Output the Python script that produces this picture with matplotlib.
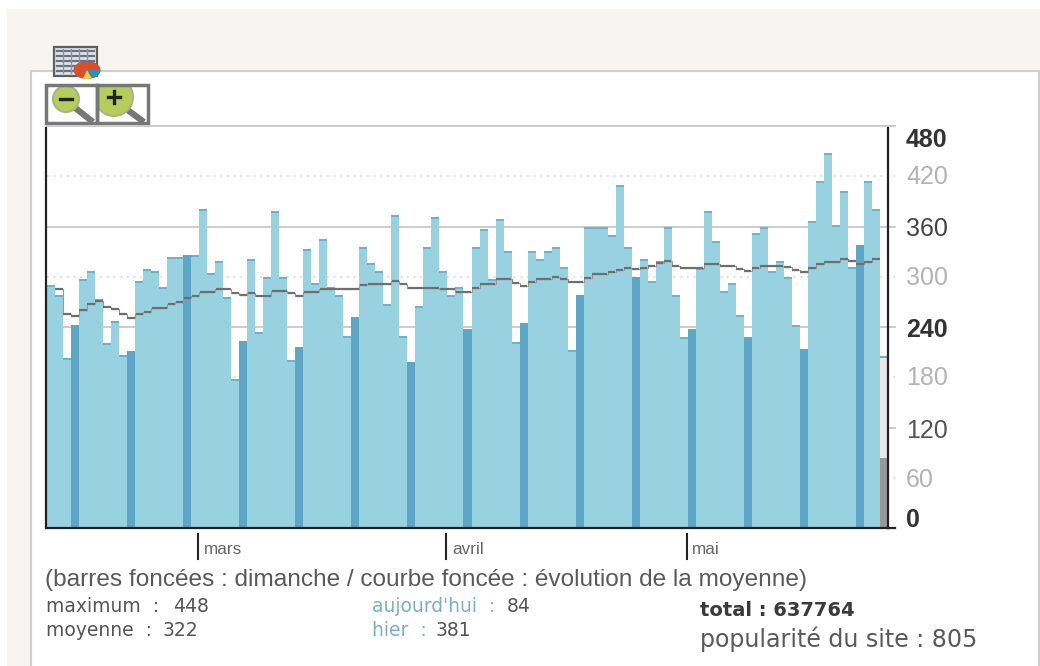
import matplotlib
matplotlib.use("Agg")
import matplotlib.pyplot as plt
import numpy as np
from matplotlib.patches import Rectangle, Circle, Ellipse, Wedge

# visits per day, oldest first
visits = [
    290.1, 277.9, 203.3, 242.0, 297.0, 306.9, 273.4, 220.5, 246.8, 206.2, 211.0, 294.9, 309.3, 306.9, 287.4,
    323.6, 323.6, 326.0, 326.0, 380.9, 304.1, 318.8, 275.5, 178.3, 222.9, 321.2, 234.4, 299.3, 378.5, 299.3,
    201.0, 215.8, 333.1, 292.2, 345.1, 287.4, 277.9, 229.6, 251.9, 335.5, 316.4, 306.9, 267.8, 373.7, 229.6,
    198.6, 265.4, 335.5, 371.3, 306.9, 277.9, 287.4, 237.3, 335.5, 357.0, 297.0, 369.0, 330.7, 222.4, 244.8,
    330.7, 320.8, 330.7, 335.5, 311.3, 212.9, 278.2, 359.4, 359.4, 359.4, 349.9, 409.6, 335.5, 299.7, 320.8,
    294.9, 318.8, 359.4, 277.9, 227.7, 237.3, 310.8, 378.5, 342.7, 282.6, 292.2, 254.0, 227.7, 352.2, 359.4,
    306.5, 318.4, 299.3, 242.0, 213.4, 366.6, 414.0, 448.0, 361.8, 402.4, 311.3, 337.9, 414.3, 381.0,
]
today = 84
today_forecast = 205

moving_avg = [
    285.0, 255.5, 253.1, 260.3, 267.5, 271.0, 263.5, 261.1, 255.9, 251.1, 255.5, 257.9, 263.0, 263.0,
    267.8, 270.2, 275.0, 277.4, 282.2, 282.2, 285.0, 285.0, 280.2, 277.9, 280.2, 277.4, 277.4, 282.6, 282.6,
    280.2, 277.4, 282.2, 282.2, 285.0, 285.0, 285.0, 285.0, 285.0, 289.8, 291.7, 291.7, 291.7, 294.6, 291.7,
    286.9, 286.9, 286.9, 286.9, 285.0, 285.0, 282.2, 282.2, 286.9, 291.7, 291.7, 297.0, 297.0, 292.2, 289.3,
    294.1, 297.0, 297.0, 299.3, 297.0, 294.1, 294.1, 298.9, 303.6, 303.6, 306.0, 308.4, 310.8, 308.9, 310.8,
    313.4, 316.0, 318.4, 313.4, 310.8, 310.8, 310.8, 315.6, 315.6, 313.2, 313.2, 308.9, 306.5, 310.8, 313.4,
    313.4, 313.4, 311.3, 308.4, 306.0, 310.8, 315.6, 318.0, 318.0, 320.8, 318.4, 315.6, 318.0, 320.8,
]

y_ticks = [480, 420, 360, 300, 240, 180, 120, 60, 0]
y_label_shift = [-14, -1, -3, -1, -3, -1, -3, -2, 8]
y_label_color = ["#333333", "#b4b4b4", "#444444", "#b4b4b4", "#333333", "#b4b4b4", "#555555", "#b4b4b4", "#333333"]
y_label_weight = ["bold", "normal", "normal", "normal", "bold", "normal", "normal", "normal", "bold"]

month_labels = ["mars", "avril", "mai"]
month_starts = [18.875, 49.875, 79.875]
first_sunday = 3

W, H = 1040, 666
plt.rcParams["font.family"] = ["Liberation Sans", "DejaVu Sans"]

fig = plt.figure(figsize=(W / 100, H / 100), dpi=100, facecolor="white")

# page background and decorations, in pixels
pg = fig.add_axes([0, 0, 1, 1], zorder=0)
pg.set_xlim(0, W)
pg.set_ylim(H, 0)
pg.axis("off")
pg.add_patch(Rectangle((7, 9), W, H, fc="#f6f5f1", ec="none"))
pg.add_patch(Rectangle((31, 71), 1008, H, fc="white", ec="#cfcfcf", lw=1.5))

# table + pie icon
pg.add_patch(Rectangle((54, 47), 43, 29, fc="#dfe3ea", ec="#5f5f5f", lw=1.6, zorder=2))
for yy in range(51, 75, 5):
    pg.plot([57, 94], [yy, yy], color="#68747f", lw=1.6, zorder=2.1)
for xx in range(63, 94, 8):
    pg.plot([xx, xx], [49, 73], color="#8c96a3", lw=1, zorder=2.1)
pie = Ellipse((87, 70), 27, 18, fc="#d5502c", ec="none", zorder=3)
pg.add_patch(pie)
blue = Wedge((87, 70), 14, 0, 60, fc="#2f8fb0", ec="none", zorder=3.1)
yellow = Wedge((87, 70), 14, 60, 115, fc="#e3d24a", ec="none", zorder=3.1)
for piece in [blue, yellow]:
    pg.add_patch(piece)
    piece.set_clip_path(pie)

# zoom buttons
for x0, x1, cx, cy, r, sign in [(46, 97, 66, 99, 13, "-"), (97, 148, 114, 97, 19, "+")]:
    pg.add_patch(Rectangle((x0, 85), x1 - x0, 38, fc="white", ec="none", zorder=4))
    pg.plot([cx + r * 0.6, x1 - 4], [cy + r * 0.6, 122], color="#777777", lw=4.5, solid_capstyle="butt", zorder=4.1)
    frame = Rectangle((x0, 85), x1 - x0, 38, fc="none", ec="#777777", lw=2.5, zorder=4.4)
    pg.add_patch(frame)
    lens = Circle((cx, cy), r, fc="#b7cc5a", ec="#a8b58c", lw=1.5, zorder=4.2)
    pg.add_patch(lens)
    lens.set_clip_path(frame)
    pg.plot([cx - 6, cx + 6], [cy, cy], color="#222222", lw=2.4, zorder=4.3)
    if sign == "+":
        pg.plot([cx, cx], [cy - 6, cy + 6], color="#222222", lw=2.4, zorder=4.3)

# chart
ax = fig.add_axes([47 / W, 1 - 528 / H, 841 / W, 402 / H], zorder=1, facecolor="none")
days = np.arange(len(visits))
bar_colors = ["#5ea6c6" if (d - first_sunday) % 7 == 0 else "#98d2e0" for d in days]
values = np.array(visits)
ax.bar(days + 0.5, values, width=1, color=bar_colors, zorder=3)
cap = 2.4
light = np.array([c == "#98d2e0" for c in bar_colors])
ax.bar(days[light] + 0.5, cap, bottom=values[light] - cap, width=1, color="#6bb3cf", zorder=4)

# current day: done so far + projected
last = len(visits) + 0.5
ax.bar(last, today_forecast, width=1, color="#e9e9e9", zorder=3)
ax.bar(last, today, width=1, color="#999999", zorder=4)
ax.bar(last, cap, bottom=today_forecast - cap, width=1, color="#6bb3cf", zorder=4)

# average: flat dashes joined by a faint step
ax.step(days[1:] + 0.5, moving_avg, where="mid", color="#999999", lw=0.8, zorder=5)
for i, v in enumerate(moving_avg):
    left = i == 0 or moving_avg[i - 1] != v
    right = i == len(moving_avg) - 1 or moving_avg[i + 1] != v
    ax.hlines(v, i + 1 + (0.05 if left else 0), i + 2 - (0.05 if right else 0), color="#6f6f6f", lw=1.6, zorder=6)

ax.set_xlim(0, 105)
ax.set_ylim(0, 480)
ax.set_xticks([])
ax.set_yticks([])
ax.spines["top"].set_visible(False)
for side in ["left", "right", "bottom"]:
    ax.spines[side].set_linewidth(1.6)
    ax.spines[side].set_color("#222222")
    ax.spines[side].set_zorder(7)
ax.spines["left"].set_position(("outward", 0.7))
ax.spines["left"].set_bounds(0, 478)
ax.spines["right"].set_bounds(0, 478)

# horizontal rules poke out a little on the right
for i, v in enumerate(y_ticks):
    if v == 0:
        ax.plot([1, 1.008], [v, v], transform=ax.get_yaxis_transform(), clip_on=False, color="#222222", lw=1.6, zorder=6)
    elif i % 2 == 0:
        ax.plot([0, 1.008], [v, v], transform=ax.get_yaxis_transform(), clip_on=False, color="#cccccc", lw=1.4, zorder=1)
    else:
        ax.plot([0, 1.008], [v, v], transform=ax.get_yaxis_transform(), clip_on=False, color="#d6d6d6", lw=1.2, ls=(0, (1, 3)), zorder=1)
    ax.annotate(str(v), (1, v), xycoords=ax.get_yaxis_transform(), xytext=(13, y_label_shift[i] * 0.72),
                textcoords="offset points", fontsize=18, color=y_label_color[i], fontweight=y_label_weight[i],
                va="center", ha="left", annotation_clip=False)

for name, m in zip(month_labels, month_starts):
    ax.plot([m, m], [-6 / 402, -31 / 402], transform=ax.get_xaxis_transform(), clip_on=False, color="#222222", lw=1.5)
    ax.annotate(name, (m, 0), xycoords=ax.get_xaxis_transform(), xytext=(4, -21 * 0.72),
                textcoords="offset points", fontsize=12.3, color="#666666", va="center", ha="left", annotation_clip=False)

# text below the chart
pg.text(45, 580, "(barres foncées : dimanche / courbe foncée : évolution de la moyenne)", fontsize=17.6, color="#5a5a5a", va="center")
vera = "DejaVu Sans"
small = 13.5
pg.text(46, 607, "maximum  :", fontsize=small, family=vera, color="#555555", va="center")
pg.text(173, 607, "448", fontsize=small, family=vera, color="#555555", va="center")
pg.text(46, 631, "moyenne  :", fontsize=small, family=vera, color="#555555", va="center")
pg.text(163, 631, "322", fontsize=small, family=vera, color="#555555", va="center")
pg.text(372, 607, "aujourd'hui  :", fontsize=small, family=vera, color="#7aaecb", va="center")
pg.text(507, 607, "84", fontsize=small, family=vera, color="#555555", va="center")
pg.text(372, 631, "hier  :", fontsize=small, family=vera, color="#7aaecb", va="center")
pg.text(436, 631, "381", fontsize=small, family=vera, color="#555555", va="center")
pg.text(700, 611, "total : 637764", fontsize=14, family=vera, fontweight="bold", color="#3a3a3a", va="center")
pg.text(700, 639, "popularité du site : 805", fontsize=17.1, family=vera, color="#5a5a5a", va="center")

fig.savefig("out.png", dpi=100)
plt.close(fig)
